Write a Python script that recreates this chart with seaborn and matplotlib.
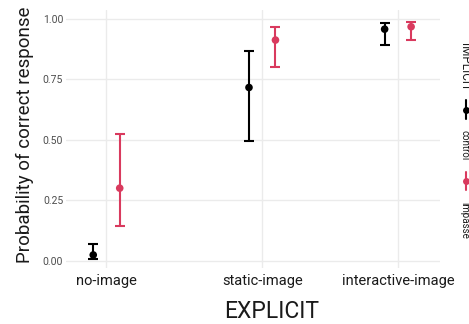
import matplotlib
matplotlib.use("Agg")
import matplotlib.pyplot as plt
from matplotlib.lines import Line2D
import seaborn as sns
import pandas as pd

# Estimated probability of a correct response, by EXPLICIT x IMPLICIT condition
explicit = ["no-image", "static-image", "interactive-image"]
implicit = ["control", "impasse"]
estimate = {"control": [0.024, 0.716, 0.957], "impasse": [0.300, 0.912, 0.967]}
lower = {"control": [0.007, 0.496, 0.892], "impasse": [0.143, 0.800, 0.913]}
upper = {"control": [0.068, 0.866, 0.983], "impasse": [0.523, 0.964, 0.986]}
y_ticks = [0.00, 0.25, 0.50, 0.75, 1.00]

rows = []
for grp in implicit:
    for i, cond in enumerate(explicit):
        rows.append(dict(EXPLICIT=cond, IMPLICIT=grp, est=estimate[grp][i],
                         lo=lower[grp][i], hi=upper[grp][i]))
df = pd.DataFrame(rows)

# layout: category centres along x and dodge offsets
centres = {"no-image": 0.0, "static-image": 1.0, "interactive-image": 1.871}
dodge = {"control": -0.085, "impasse": 0.085}
df["x"] = df["EXPLICIT"].map(centres) + df["IMPLICIT"].map(dodge)

palette = {"control": "#000000", "impasse": "#d93a5e"}

sns.set_theme(style="whitegrid")
plt.rcParams["font.family"] = ["Roboto", "DejaVu Sans"]

fig = plt.figure(figsize=(4.69, 3.24), dpi=100)
ax = fig.add_axes([0.1407, 0.1728, 0.938 - 0.1407, 0.969 - 0.1728])

for grp in implicit:
    sub = df[df["IMPLICIT"] == grp]
    ax.errorbar(sub["x"], sub["est"],
                yerr=[sub["est"] - sub["lo"], sub["hi"] - sub["est"]],
                fmt="none", ecolor=palette[grp], elinewidth=1.5,
                capsize=3.8, capthick=1.5, zorder=2)
sns.scatterplot(data=df, x="x", y="est", hue="IMPLICIT", palette=palette,
                s=30, edgecolor="none", legend=False, ax=ax, zorder=3)

ax.set_xlim(-0.26, 2.141)
ax.set_ylim(-0.03, 1.036)
ax.set_xticks([centres[c] for c in explicit])
ax.set_xticklabels(explicit, fontsize=10.5, color="#1a1a1a")
ax.set_yticks(y_ticks)
ax.set_yticklabels([f"{v:.2f}" for v in y_ticks], fontsize=7.5, color="#4d4d4d")
ax.tick_params(axis="both", length=0, pad=2)
ax.tick_params(axis="x", pad=4)
ax.grid(True, color="#ebebeb", linewidth=1.0)
for s in ax.spines.values():
    s.set_visible(False)
ax.set_facecolor("white")
ax.set_xlabel("")
ax.set_ylabel("")

W, H = 469, 324
def fx(px):
    return px / W
def fy(py):
    return 1 - py / H

fig.text(fx(272), fy(312), "EXPLICIT", ha="center", va="center",
         fontsize=16.5, color="#1a1a1a")
fig.text(fx(25), fy(135), "Probability of correct response", rotation=90,
         ha="center", va="center", fontsize=13.5, color="#1a1a1a")

# legend on the right, drawn with rotated text
fig.text(fx(464), fy(67), "IMPLICIT", rotation=270, ha="center", va="center",
         fontsize=8.5, color="#1a1a1a")
for grp, (g_top, g_bot, g_mid, lab_y) in zip(
        implicit, [(100, 119, 110, 145), (172, 190, 181, 220)]):
    fig.add_artist(Line2D([fx(465.5), fx(465.5)], [fy(g_top), fy(g_bot)],
                          color=palette[grp], linewidth=1.5,
                          transform=fig.transFigure))
    fig.add_artist(Line2D([fx(465.5)], [fy(g_mid)], marker="o", markersize=5,
                          color=palette[grp], markeredgewidth=0,
                          transform=fig.transFigure))
    fig.text(fx(464), fy(lab_y), grp, rotation=270, ha="center", va="center",
             fontsize=7, color="#1a1a1a")

fig.savefig("out.png", dpi=100, facecolor="white")
